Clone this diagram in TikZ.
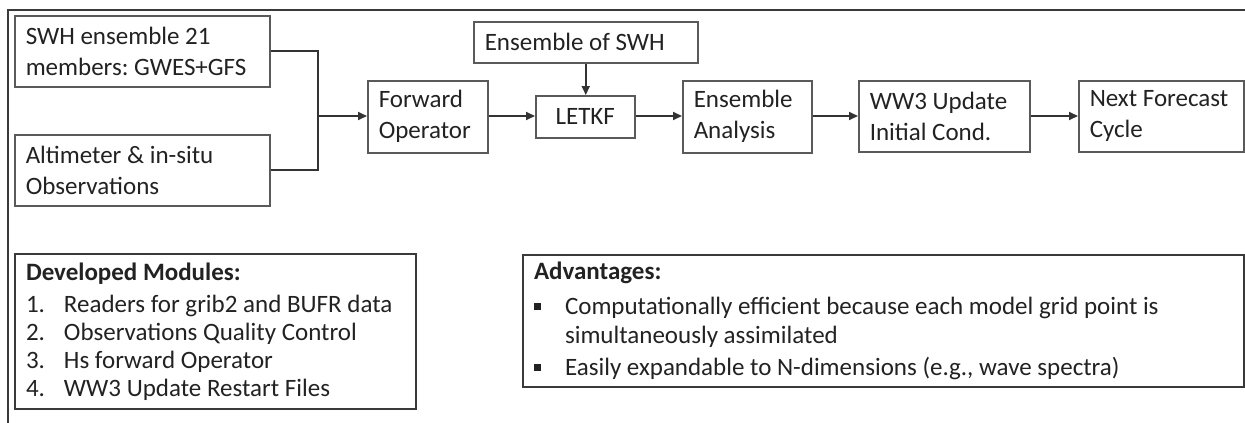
\documentclass[tikz,border=0pt]{standalone}
\usepackage{fontspec}
\setmainfont{Carlito}
\usetikzlibrary{arrows.meta}
\definecolor{txt}{HTML}{222222}
\definecolor{boxc}{HTML}{5A5A5A}
\definecolor{linec}{HTML}{333333}
\definecolor{darkb}{HTML}{3A3A3A}
\newcommand{\bul}{\rule[5pt]{7pt}{7pt}}
\frenchspacing
\tikzset{
  flowbox/.style={draw=boxc, line width=1.5pt, anchor=north west, inner xsep=11pt, inner ysep=0pt,
    align=flush left, text=txt, font=\fontsize{25}{31}\selectfont},
  centerbox/.style={draw=boxc, line width=1.5pt, anchor=north west, inner sep=0pt,
    text=txt, font=\fontsize{25}{31}\selectfont},
  listbox/.style={draw=darkb, line width=2pt, anchor=north west, inner xsep=11pt, inner ysep=0pt,
    align=flush left, text=txt},
  conn/.style={draw=linec, line width=2pt},
  arr/.style={conn, -{Triangle[length=9pt,width=8pt]}},
  frame/.style={draw=darkb, line width=1.5pt}
}
\begin{document}
\begin{tikzpicture}[x=1pt,y=-1pt]
\useasboundingbox (0,0) rectangle (1245,423);
% outer frame
\coordinate (fbl) at (8,423);
\coordinate (ftl) at (8,10);
\coordinate (ftr) at (1245,10);
\draw[frame] (fbl) -- (ftl) -- (ftr);

% flow boxes
\node[flowbox, text width=233pt, minimum height=71pt] (swh) at (14,15) {SWH ensemble 21\\members: GWES+GFS};
\node[flowbox, text width=233pt, minimum height=71pt] (alt) at (14,134) {Altimeter \& in-situ\\Observations};
\node[flowbox, text width=98pt, minimum height=72pt] (fwd) at (367,80) {Forward\\Operator};
\node[flowbox, text width=202pt, minimum height=41pt] (ens) at (473,21) {Ensemble of SWH};
\node[centerbox, minimum width=99pt, minimum height=42pt] (letkf) at (535,95) {LETKF};
\node[flowbox, text width=107pt, minimum height=72pt] (ana) at (682,80) {Ensemble\\Analysis};
\node[flowbox, text width=149pt, minimum height=71pt] (ww3) at (858,80) {WW3 Update\\Initial Cond.};
\node[flowbox, text width=143pt, minimum height=71pt] (nxt) at (1078,80) {Next Forecast\\Cycle};

% connectors
\coordinate (jm) at (318,116);
\draw[conn] (swh.east) -- (swh.east -| jm) -- (alt.east -| jm) -- (alt.east);
\draw[arr] (jm) -- (fwd.west |- jm);
\draw[arr] (fwd.east |- jm) -- (letkf.west |- jm);
\draw[arr] (ens.south) -- (ens.south |- letkf.north);
\draw[arr] (letkf.east |- jm) -- (ana.west |- jm);
\draw[arr] (ana.east |- jm) -- (ww3.west |- jm);
\draw[arr] (ww3.east |- jm) -- (nxt.west |- jm);

% bottom boxes
\node[listbox, text width=379pt, minimum height=155pt, font=\fontsize{25}{28}\selectfont] (dev) at (14,253) {%
\parindent=0pt
\vspace*{4pt}%
\textbf{Developed Modules:}\par
\makebox[38pt][l]{1.}Readers for grib2 and BUFR data\par
\makebox[38pt][l]{2.}Observations Quality Control\par
\makebox[38pt][l]{3.}Hs forward Operator\par
\makebox[38pt][l]{4.}WW3 Update Restart Files};
\node[listbox, text width=699pt, minimum height=132pt, font=\fontsize{25}{29}\selectfont] (adv) at (522,254) {%
\parindent=0pt
\vspace*{6pt}%
\textbf{Advantages:}\par
\hangindent=31pt\hangafter=1 \makebox[31pt][l]{\bul}Computationally efficient because each model grid point is\newline simultaneously assimilated\par
\vspace{3pt}%
\hangindent=31pt\hangafter=1 \makebox[31pt][l]{\bul}Easily expandable to N-dimensions (e.g., wave spectra)};
\end{tikzpicture}
\end{document}
